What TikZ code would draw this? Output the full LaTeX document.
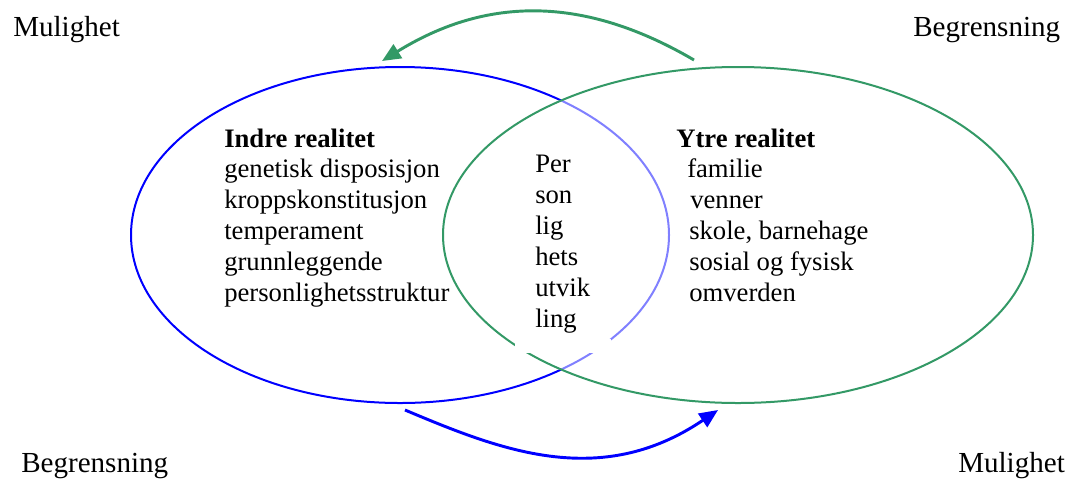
\documentclass[tikz,border=0pt]{standalone}
\usepackage{fontspec}
\setmainfont{Liberation Serif}
\usetikzlibrary{arrows.meta}
\definecolor{vgreen}{HTML}{339966}
\definecolor{vblue}{HTML}{0000FF}
\begin{document}
\begin{tikzpicture}[x=0.75pt,y=-0.75pt,
  lbl/.style={anchor=base west,inner sep=0pt,font=\fontsize{20}{23.25}\selectfont},
  corner/.style={anchor=base west,inner sep=0pt,font=\fontsize{21.8}{26}\selectfont},
  arr/.style={line width=2.2pt,-{Triangle[length=14pt,width=12pt]}}]
\useasboundingbox (0,0) rectangle (1069,479);
\fill[white] (0,0) rectangle (1069,479);
% ellipses
\draw[vblue,line width=1.5pt] (400,235) ellipse [x radius=269, y radius=168];
\fill[white,opacity=0.5] (738,235) ellipse [x radius=295, y radius=168];
\draw[vgreen,line width=1.5pt] (738,235) ellipse [x radius=295, y radius=168];
% white text box in the lens
\node[fill=white,inner sep=0pt,minimum width=72pt,minimum height=10pt] (box) at (563,346) {};
% arrows
\coordinate (gs) at (694,60);
\coordinate (ge) at (382,61);
\coordinate (bs) at (405,410);
\coordinate (be) at (718,410);
\draw[arr,vgreen] (gs) .. controls (600,5) and (500,-12) .. (ge);
\draw[arr,vblue] (bs) .. controls (500,450) and (600,490) .. (be);
% texts
\node[lbl,font=\fontsize{20}{23.25}\selectfont\bfseries] (ir) at (224,147) {Indre realitet};
\node[lbl] (i1) at (224,177) {genetisk disposisjon};
\node[lbl] (i2) at (224,208) {kroppskonstitusjon};
\node[lbl] (i3) at (224,239) {temperament};
\node[lbl] (i4) at (224,270) {grunnleggende};
\node[lbl] (i5) at (224,301) {personlighetsstruktur};
\node[lbl,font=\fontsize{20}{23.25}\selectfont\bfseries] (yr) at (676,147) {Ytre realitet};
\node[lbl] (y1) at (687,177) {familie};
\node[lbl] (y2) at (690,208) {venner};
\node[lbl] (y3) at (689,239) {skole, barnehage};
\node[lbl] (y4) at (689,270) {sosial og fysisk};
\node[lbl] (y5) at (689,301) {omverden};
\node[lbl] (p1) at (535,172) {Per};
\node[lbl] (p2) at (535,203) {son};
\node[lbl] (p3) at (535,234) {lig};
\node[lbl] (p4) at (535,265) {hets};
\node[lbl] (p5) at (535,296) {utvik};
\node[lbl] (p6) at (535,327) {ling};
\node[corner] (c1) at (13,36) {Mulighet};
\node[corner] (c2) at (913,36) {Begrensning};
\node[corner] (c3) at (21,472) {Begrensning};
\node[corner] (c4) at (958,472) {Mulighet};
\end{tikzpicture}
\end{document}
